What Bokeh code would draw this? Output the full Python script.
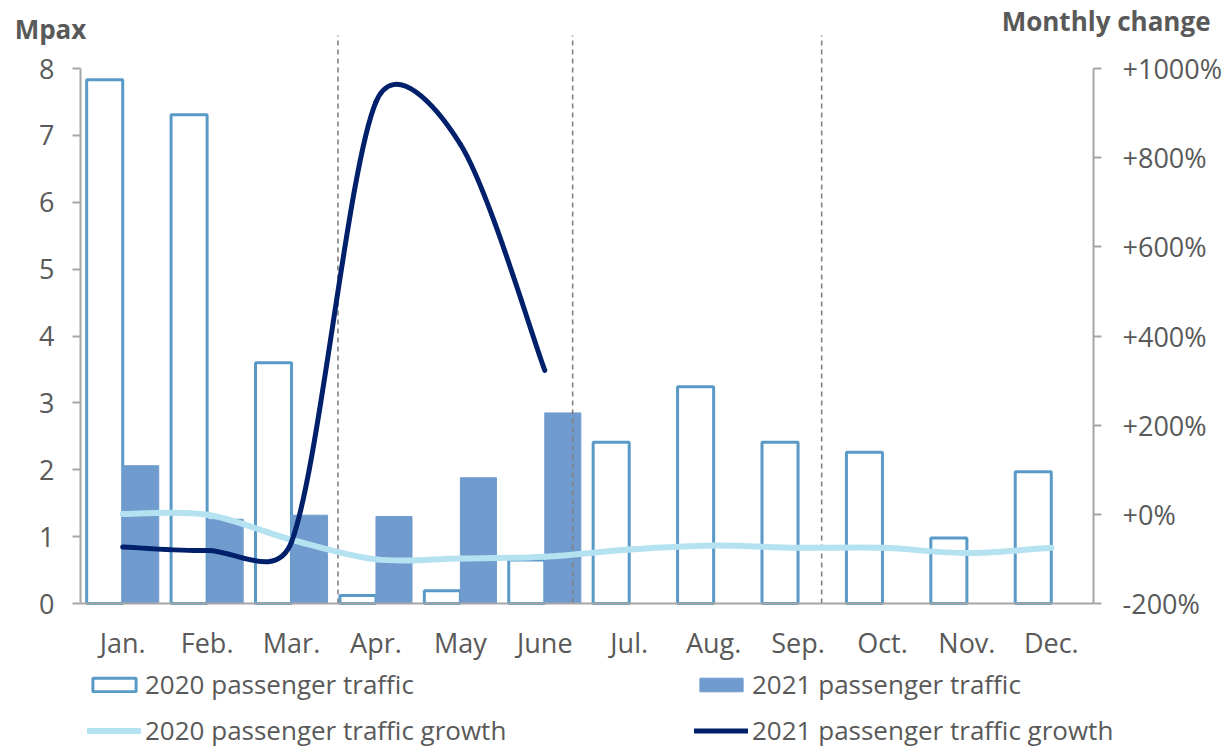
import numpy as np
from bokeh.plotting import figure
from bokeh.models import (Range1d, LinearAxis, FixedTicker, Legend, LegendItem,
                          Label, ColumnDataSource)
from bokeh.embed import file_html
from bokeh.resources import INLINE

# ---------------- data ----------------
months = ["Jan.", "Feb.", "Mar.", "Apr.", "May", "June", "Jul.", "Aug.", "Sep.", "Oct.", "Nov.", "Dec."]
traffic_2020 = [7.83, 7.31, 3.60, 0.12, 0.19, 0.65, 2.41, 3.24, 2.41, 2.26, 0.98, 1.97]
traffic_2021 = [2.06, 1.26, 1.32, 1.30, 1.88, 2.85, None, None, None, None, None, None]
growth_2020 = [1, -1, -57, -101, -99, -95, -79, -70, -75, -75, -87, -75]
growth_2021 = [-73, -81, -62, 925, 830, 323]
left_ticks = [0, 1, 2, 3, 4, 5, 6, 7, 8]
pct_ticks = [-200, 0, 200, 400, 600, 800, 1000]
pct_labels = ["-200%", "+0%", "+200%", "+400%", "+600%", "+800%", "+1000%"]
quarter_marks = [3.05, 5.83, 8.78]

# ---------------- style ----------------
FONT = "Open Sans"
TXT = "#595959"
AX = "#a6a6a6"
C2020 = "#5a9ac6"
C2021 = "#709bce"
CG20 = "#b5e2f0"
CG21 = "#00206b"

W, H = 1226, 750
# pixel geometry of the plotting area inside the canvas
PX0, PX1 = 80.0, 1093.0      # x = 0 .. 12
PY0, PY8 = 603.0, 68.0       # y = 0 .. 8   (left)  /  -200 .. 1000 (right)
kx = (PX1 - PX0) / 12.0
ky = (PY0 - PY8) / 8.0
kp = (PY0 - PY8) / 1200.0

x_rng = Range1d(-PX0 / kx, (W - PX0) / kx)
y_rng = Range1d(-(H - PY0) / ky, 8 + PY8 / ky)
p_rng = Range1d(-200 - (H - PY0) / kp, 1000 + PY8 / kp)

p = figure(width=W, height=H, output_backend="svg", toolbar_location=None,
           x_range=x_rng, y_range=y_rng,
           min_border_left=0, min_border_right=0, min_border_top=0, min_border_bottom=0,
           background_fill_color="white", border_fill_color="white")
p.outline_line_color = None
p.grid.visible = False
p.extra_y_ranges = {"pct": p_rng}

# axes (fixed inside the frame)
xa = p.xaxis[0]
xa.fixed_location = 0
xa.bounds = (0, 12)
xa.ticker = FixedTicker(ticks=[i + 0.5 for i in range(len(months))])
xa.major_label_overrides = {i + 0.5: m for i, m in enumerate(months)}
xa.major_tick_line_color = None
xa.minor_tick_line_color = None
xa.axis_line_color = AX
xa.axis_line_width = 2
xa.major_label_text_font = FONT
xa.major_label_text_font_size = "27px"
xa.major_label_text_color = TXT
xa.major_label_standoff = 14

ya = p.yaxis[0]
ya.fixed_location = 0
ya.ticker = FixedTicker(ticks=left_ticks)
ya.bounds = (0, 8)
ya.axis_line_color = AX
ya.axis_line_width = 2
ya.major_tick_line_color = AX
ya.major_tick_line_width = 2
ya.major_tick_out = 8
ya.major_tick_in = 0
ya.minor_tick_line_color = None
ya.major_label_text_font = FONT
ya.major_label_text_font_size = "27px"
ya.major_label_text_color = TXT
ya.major_label_standoff = 18

ra = LinearAxis(y_range_name="pct", ticker=FixedTicker(ticks=pct_ticks), bounds=(-200, 1000),
                fixed_location=12,
                major_label_overrides={t: l for t, l in zip(pct_ticks, pct_labels)})
ra.axis_line_color = AX
ra.axis_line_width = 2
ra.major_tick_line_color = AX
ra.major_tick_line_width = 2
ra.major_tick_out = 8
ra.major_tick_in = 0
ra.minor_tick_line_color = None
ra.major_label_text_font = FONT
ra.major_label_text_font_size = "27px"
ra.major_label_text_color = TXT
ra.major_label_standoff = 21
p.add_layout(ra, "right")

# bars
bw = 0.427
x20 = [i + 0.5 - bw / 2 for i in range(len(months))]
x21 = [i + 0.5 + bw / 2 for i in range(len(months))]
t21 = [np.nan if v is None else v for v in traffic_2021]
r20 = p.vbar(x=x20, top=traffic_2020, width=bw, bottom=0, fill_color="white",
             line_color=C2020, line_width=3)
r21 = p.vbar(x=x21, top=t21, width=bw, bottom=0, fill_color=C2021, line_color=C2021, line_width=1)

# quarter separators (from the axis up to the top of the chart area)
sep_top = 8 + (PY8 - 35.0) / ky
p.segment(x0=quarter_marks, y0=[0] * len(quarter_marks), x1=quarter_marks,
          y1=[sep_top] * len(quarter_marks), line_color="#808080", line_width=1.6, line_dash="5 4")


# smoothed lines (Excel-like bezier through the monthly values)
def smooth(xs, ys, sy, cap=0.5):
    P = np.array([[x * kx, y * sy] for x, y in zip(xs, ys)], dtype=float)
    n = len(P)
    out = {k: [] for k in ("x0", "y0", "x1", "y1", "cx0", "cy0", "cx1", "cy1")}
    for i in range(n - 1):
        p0 = P[max(i - 1, 0)]
        p1 = P[i]
        p2 = P[i + 1]
        p3 = P[min(i + 2, n - 1)]
        seg = np.hypot(*(p2 - p1))
        t1 = (p2 - p0) / 6.0
        t2 = (p3 - p1) / 6.0
        for t in (t1, t2):
            d = np.hypot(*t)
            if d > cap * seg:
                t *= cap * seg / d
        c1 = p1 + t1
        c2 = p2 - t2
        out["x0"].append(p1[0] / kx); out["y0"].append(p1[1] / sy)
        out["x1"].append(p2[0] / kx); out["y1"].append(p2[1] / sy)
        out["cx0"].append(c1[0] / kx); out["cy0"].append(c1[1] / sy)
        out["cx1"].append(c2[0] / kx); out["cy1"].append(c2[1] / sy)
    return ColumnDataSource(out)


xs20 = [i + 0.5 for i in range(len(growth_2020))]
xs21 = [i + 0.5 for i in range(len(growth_2021))]
bz = dict(x0="x0", y0="y0", x1="x1", y1="y1", cx0="cx0", cy0="cy0", cx1="cx1", cy1="cy1")
rg20 = p.bezier(**bz, source=smooth(xs20, growth_2020, kp), y_range_name="pct",
                line_color=CG20, line_width=6, line_cap="round")
rg21 = p.bezier(**bz, source=smooth(xs21, growth_2021, kp), y_range_name="pct",
                line_color=CG21, line_width=5, line_cap="round")

# axis titles
p.add_layout(Label(x=(50 - PX0) / kx, y=(PY0 - 28) / ky, text="Mpax", text_font=FONT,
                   text_font_size="26px", text_font_style="bold", text_color=TXT,
                   text_align="center", text_baseline="middle"))
p.add_layout(Label(x=(1210 - PX0) / kx, y=(PY0 - 20) / ky, text="Monthly change", text_font=FONT,
                   text_font_size="26px", text_font_style="bold", text_color=TXT,
                   text_align="right", text_baseline="middle"))

# legend (column-major fill: col 1 = 2020 items, col 2 = 2021 items)
legend = Legend(items=[
    LegendItem(label="2020 passenger traffic", renderers=[r20]),
    LegendItem(label="2020 passenger traffic growth", renderers=[rg20]),
    LegendItem(label="2021 passenger traffic", renderers=[r21]),
    LegendItem(label="2021 passenger traffic growth", renderers=[rg21]),
], ncols=2, location=(87, 2))
legend.label_text_font = FONT
legend.label_text_font_size = "26px"
legend.label_text_color = TXT
legend.glyph_width = 54
legend.glyph_height = 17
legend.label_standoff = 4
legend.label_width = 539
legend.label_height = 36
legend.spacing = 10
legend.padding = 0
legend.margin = 0
legend.border_line_color = None
legend.background_fill_alpha = 0
p.add_layout(legend, "center")

open("out.html", "w").write(file_html(p, INLINE))
